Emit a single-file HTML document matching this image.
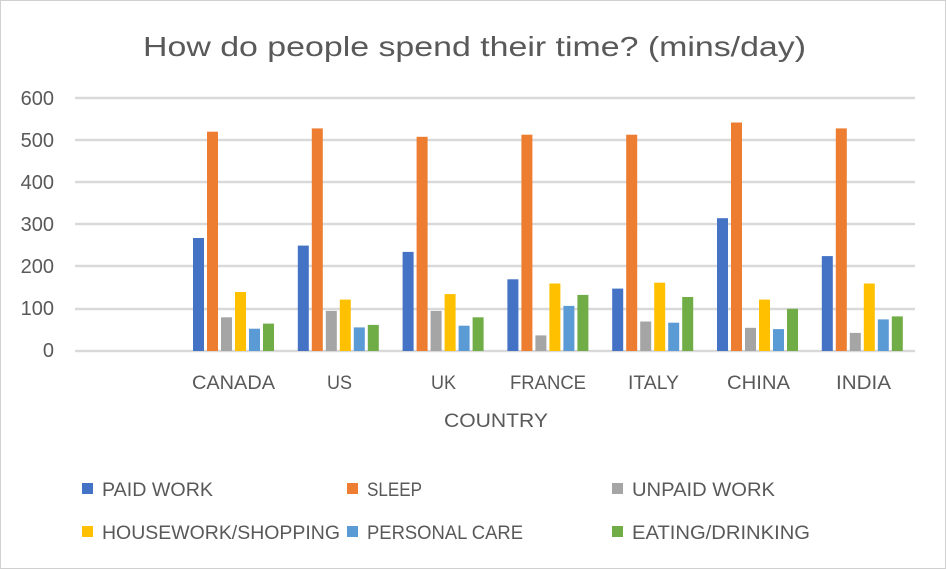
<!DOCTYPE html>
<html><head><meta charset="utf-8"><style>
html,body{margin:0;padding:0;background:#fff}
svg{display:block;font-family:"Liberation Sans",sans-serif}
</style></head><body>
<svg width="946" height="569" viewBox="0 0 946 569">
<rect x="0.5" y="0.5" width="945" height="568" fill="#fff" stroke="#d0d0d0"/>
<text x="143" y="56" font-size="28" fill="#595959" textLength="663" lengthAdjust="spacingAndGlyphs">How do people spend their time? (mins/day)</text>
<g stroke="#d9d9d9" stroke-width="2.5">
<line x1="75" x2="915" y1="98" y2="98"/><line x1="75" x2="915" y1="140" y2="140"/><line x1="75" x2="915" y1="182" y2="182"/><line x1="75" x2="915" y1="224" y2="224"/><line x1="75" x2="915" y1="266" y2="266"/><line x1="75" x2="915" y1="309" y2="309"/><line x1="75" x2="915" y1="351" y2="351"/>
</g>
<g font-size="20" fill="#595959" text-anchor="end">
<text x="54" y="105">600</text><text x="54" y="147">500</text><text x="54" y="189">400</text><text x="54" y="231">300</text><text x="54" y="273">200</text><text x="54" y="315">100</text><text x="54" y="357">0</text>
</g>
<g>
<rect x="193" y="238.0" width="11" height="113.0" fill="#4472c4"/><rect x="207" y="131.7" width="11" height="219.3" fill="#ed7d31"/><rect x="221" y="317.3" width="11" height="33.7" fill="#a5a5a5"/><rect x="235" y="292.0" width="11" height="59.0" fill="#ffc000"/><rect x="249" y="328.7" width="11" height="22.3" fill="#5b9bd5"/><rect x="263" y="323.6" width="11" height="27.4" fill="#70ad47"/>
<rect x="297.8" y="245.6" width="11" height="105.4" fill="#4472c4"/><rect x="311.8" y="128.4" width="11" height="222.6" fill="#ed7d31"/><rect x="325.8" y="310.9" width="11" height="40.1" fill="#a5a5a5"/><rect x="339.8" y="299.6" width="11" height="51.4" fill="#ffc000"/><rect x="353.8" y="327.4" width="11" height="23.6" fill="#5b9bd5"/><rect x="367.8" y="324.9" width="11" height="26.1" fill="#70ad47"/>
<rect x="402.6" y="251.9" width="11" height="99.1" fill="#4472c4"/><rect x="416.6" y="136.8" width="11" height="214.2" fill="#ed7d31"/><rect x="430.6" y="310.9" width="11" height="40.1" fill="#a5a5a5"/><rect x="444.6" y="294.1" width="11" height="56.9" fill="#ffc000"/><rect x="458.6" y="325.7" width="11" height="25.3" fill="#5b9bd5"/><rect x="472.6" y="317.3" width="11" height="33.7" fill="#70ad47"/>
<rect x="507.4" y="279.3" width="11" height="71.7" fill="#4472c4"/><rect x="521.4" y="134.7" width="11" height="216.3" fill="#ed7d31"/><rect x="535.4" y="335.4" width="11" height="15.6" fill="#a5a5a5"/><rect x="549.4" y="283.5" width="11" height="67.5" fill="#ffc000"/><rect x="563.4" y="305.9" width="11" height="45.1" fill="#5b9bd5"/><rect x="577.4" y="294.9" width="11" height="56.1" fill="#70ad47"/>
<rect x="612.2" y="288.6" width="11" height="62.4" fill="#4472c4"/><rect x="626.2" y="134.7" width="11" height="216.3" fill="#ed7d31"/><rect x="640.2" y="321.5" width="11" height="29.5" fill="#a5a5a5"/><rect x="654.2" y="282.7" width="11" height="68.3" fill="#ffc000"/><rect x="668.2" y="322.7" width="11" height="28.3" fill="#5b9bd5"/><rect x="682.2" y="297.0" width="11" height="54.0" fill="#70ad47"/>
<rect x="717" y="218.2" width="11" height="132.8" fill="#4472c4"/><rect x="731" y="122.5" width="11" height="228.5" fill="#ed7d31"/><rect x="745" y="327.8" width="11" height="23.2" fill="#a5a5a5"/><rect x="759" y="299.6" width="11" height="51.4" fill="#ffc000"/><rect x="773" y="329.1" width="11" height="21.9" fill="#5b9bd5"/><rect x="787" y="308.8" width="11" height="42.2" fill="#70ad47"/>
<rect x="821.8" y="256.1" width="11" height="94.9" fill="#4472c4"/><rect x="835.8" y="128.4" width="11" height="222.6" fill="#ed7d31"/><rect x="849.8" y="332.9" width="11" height="18.1" fill="#a5a5a5"/><rect x="863.8" y="283.5" width="11" height="67.5" fill="#ffc000"/><rect x="877.8" y="319.4" width="11" height="31.6" fill="#5b9bd5"/><rect x="891.8" y="316.4" width="11" height="34.6" fill="#70ad47"/>
</g>
<g font-size="19" fill="#595959">
<text x="192" y="389" textLength="83" lengthAdjust="spacingAndGlyphs">CANADA</text>
<text x="327" y="389" textLength="25" lengthAdjust="spacingAndGlyphs">US</text>
<text x="431" y="389" textLength="25" lengthAdjust="spacingAndGlyphs">UK</text>
<text x="510" y="389" textLength="76" lengthAdjust="spacingAndGlyphs">FRANCE</text>
<text x="628" y="389" textLength="51" lengthAdjust="spacingAndGlyphs">ITALY</text>
<text x="727" y="389" textLength="63" lengthAdjust="spacingAndGlyphs">CHINA</text>
<text x="836" y="389" textLength="55" lengthAdjust="spacingAndGlyphs">INDIA</text>
<text x="444" y="427" textLength="104" lengthAdjust="spacingAndGlyphs">COUNTRY</text>
</g>
<g font-size="19" fill="#595959">
<rect x="82" y="483" width="11" height="11" fill="#4472c4"/><text x="102" y="496" textLength="111" lengthAdjust="spacingAndGlyphs">PAID WORK</text>
<rect x="347" y="483" width="11" height="11" fill="#ed7d31"/><text x="367" y="496" textLength="55" lengthAdjust="spacingAndGlyphs">SLEEP</text>
<rect x="612" y="483" width="11" height="11" fill="#a5a5a5"/><text x="632" y="496" textLength="143" lengthAdjust="spacingAndGlyphs">UNPAID WORK</text>
<rect x="82" y="526" width="11" height="11" fill="#ffc000"/><text x="102" y="539" textLength="238" lengthAdjust="spacingAndGlyphs">HOUSEWORK/SHOPPING</text>
<rect x="347" y="526" width="11" height="11" fill="#5b9bd5"/><text x="367" y="539" textLength="156" lengthAdjust="spacingAndGlyphs">PERSONAL CARE</text>
<rect x="612" y="526" width="11" height="11" fill="#70ad47"/><text x="632" y="539" textLength="178" lengthAdjust="spacingAndGlyphs">EATING/DRINKING</text>
</g>
</svg>
</body></html>
